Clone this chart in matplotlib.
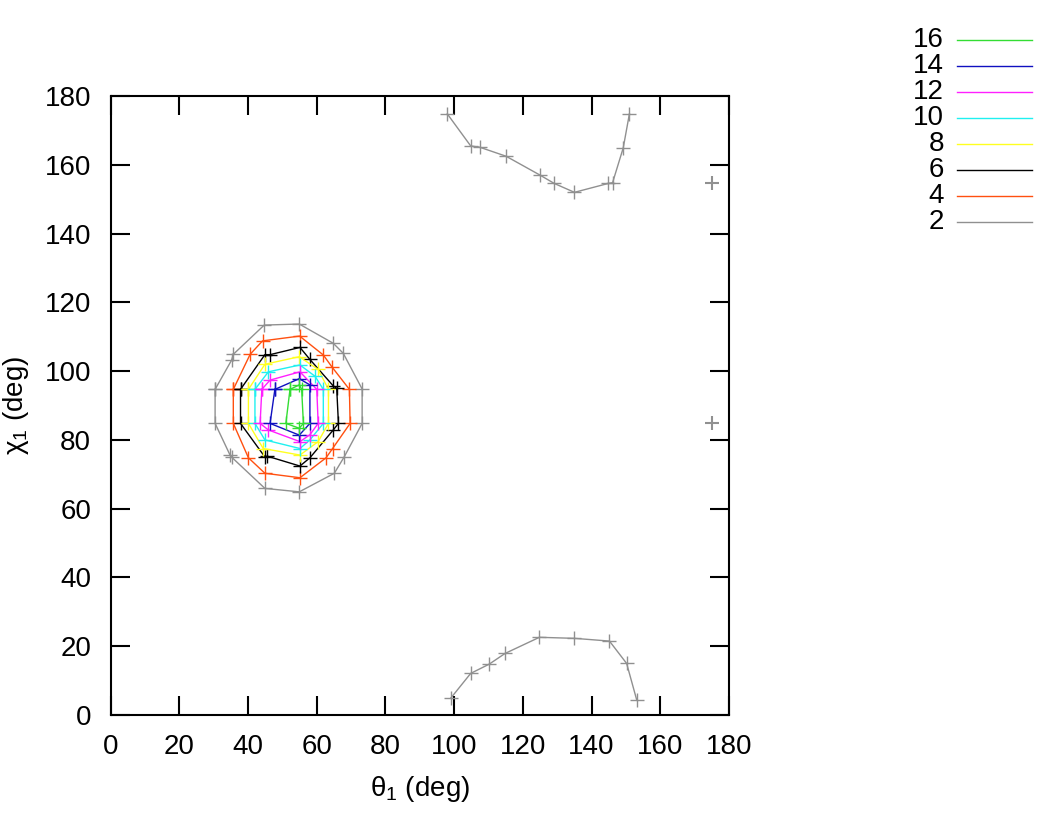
import numpy as np
import matplotlib.pyplot as plt
from matplotlib.lines import Line2D

plt.rcParams["font.family"] = ["Liberation Sans", "DejaVu Sans"]
plt.rcParams["mathtext.fontset"] = "custom"
plt.rcParams["mathtext.rm"] = "Liberation Sans"
plt.rcParams["mathtext.it"] = "Liberation Sans:italic"

# contour levels (drawn top to bottom in key)
levels = ["16", "14", "12", "10", "8", "6", "4", "2"]
colors = ["#33dd33", "#1010c0", "#ff20ff", "#20f0f0", "#ffff20", "#000000", "#ff5010", "#909090"]

# closed contours around the main peak: (theta1, chi1)
c16_x = [52.2, 54.9, 55.6, 56.1, 54.9, 51.0]
c16_y = [94.7, 96.0, 94.7, 84.8, 83.4, 84.8]
c14_x = [47.8, 54.9, 58.0, 58.0, 54.9, 46.4]
c14_y = [94.7, 97.8, 96.0, 84.8, 81.4, 84.8]
c12_x = [44.0, 46.4, 55.1, 60.0, 60.4, 58.0, 55.1, 45.9, 43.5]
c12_y = [94.7, 97.4, 99.8, 94.7, 84.8, 81.5, 79.5, 82.9, 84.8]
c10_x = [42.0, 45.9, 55.1, 59.5, 61.9, 61.9, 58.0, 55.1, 44.9, 42.0]
c10_y = [94.7, 99.8, 101.8, 98.5, 94.7, 84.8, 80.0, 77.5, 80.0, 84.8]
c8_x = [40.1, 44.9, 54.9, 60.4, 63.4, 63.4, 60.4, 55.1, 44.4, 40.1]
c8_y = [94.7, 102.0, 104.2, 100.5, 94.7, 84.8, 79.5, 75.6, 77.5, 84.8]
c6_x = [37.8, 44.9, 46.4, 55.1, 58.0, 64.8, 65.8, 66.3, 64.8, 58.0, 55.1, 45.5, 45.0, 37.8]
c6_y = [94.7, 104.8, 104.8, 106.9, 103.4, 95.7, 95.0, 84.8, 82.9, 74.8, 72.4, 75.3, 74.9, 84.8]
c4_x = [35.7, 40.6, 44.2, 55.0, 61.9, 64.5, 69.5, 69.7, 64.6, 62.7, 55.1, 44.9, 40.1, 35.7]
c4_y = [94.7, 104.9, 108.8, 110.2, 104.7, 101.1, 94.7, 84.8, 77.5, 74.8, 69.0, 70.3, 74.8, 84.8]
c2_x = [30.4, 35.2, 35.7, 44.7, 54.9, 64.8, 67.7, 73.2, 73.2, 68.0, 65.1, 54.9, 44.9, 35.2, 34.7, 30.4]
c2_y = [94.7, 103.2, 104.9, 113.4, 113.7, 108.1, 105.2, 94.8, 84.8, 75.1, 70.3, 64.9, 65.9, 75.0, 75.7, 84.8]

# level 2 open branches and isolated points
top_x = [98.0, 104.8, 107.5, 115.1, 125.0, 129.1, 135.0, 144.9, 146.1, 149.2, 151.0]
top_y = [174.8, 165.5, 165.1, 162.5, 157.0, 154.6, 152.0, 154.6, 154.8, 164.9, 174.8]
bot_x = [99.0, 104.8, 110.2, 114.8, 124.8, 135.0, 145.2, 150.2, 153.1]
bot_y = [4.9, 12.1, 14.8, 17.9, 22.6, 22.3, 21.5, 15.0, 4.5]
iso_x = [175.0, 175.0]
iso_y = [154.8, 84.8]

loops = [(c16_x, c16_y), (c14_x, c14_y), (c12_x, c12_y), (c10_x, c10_y),
         (c8_x, c8_y), (c6_x, c6_y), (c4_x, c4_y), (c2_x, c2_y)]

fig = plt.figure(figsize=(10.5, 8.14), dpi=100)
ax = fig.add_axes([0.1054, 0.1216, 0.5889, 0.7604])

mk = dict(marker="+", markersize=10, markeredgewidth=1.0, linewidth=1.0)
for (xs, ys), col in reversed(list(zip(loops, colors))):
    xs = np.append(xs, xs[0])
    ys = np.append(ys, ys[0])
    ax.plot(xs, ys, color=col, **mk)

gray = colors[-1]
ax.plot(top_x, top_y, color=gray, **mk)
ax.plot(bot_x, bot_y, color=gray, **mk)
ax.plot(iso_x, iso_y, color=gray, linestyle="none", marker="+", markersize=10, markeredgewidth=1.5)

ax.set_xlim(0, 180)
ax.set_ylim(0, 180)
ax.set_xticks(np.arange(0, 181, 20))
ax.set_yticks(np.arange(0, 181, 20))
ax.tick_params(direction="in", length=14, width=1.5, labelsize=20, top=True, right=True, pad=14)
for s in ax.spines.values():
    s.set_linewidth(1.5)
ax.set_xlabel(r"$\mathrm{\theta}_1$ (deg)", fontsize=20, labelpad=10)
ax.set_ylabel(r"$\mathrm{\chi}_1$ (deg)", fontsize=20, labelpad=10)

# gnuplot-style key: label on the left, line sample on the right
W, H = 1050, 814
for i, (lab, col) in enumerate(zip(levels, colors)):
    yp = 40 + i * 26.0
    fig.text(944 / W, 1 - yp / H, lab, ha="right", va="center", fontsize=20)
    fig.add_artist(Line2D([957 / W, 1032 / W], [1 - yp / H, 1 - yp / H], color=col, linewidth=1.0))

fig.savefig("out.png", dpi=100)
